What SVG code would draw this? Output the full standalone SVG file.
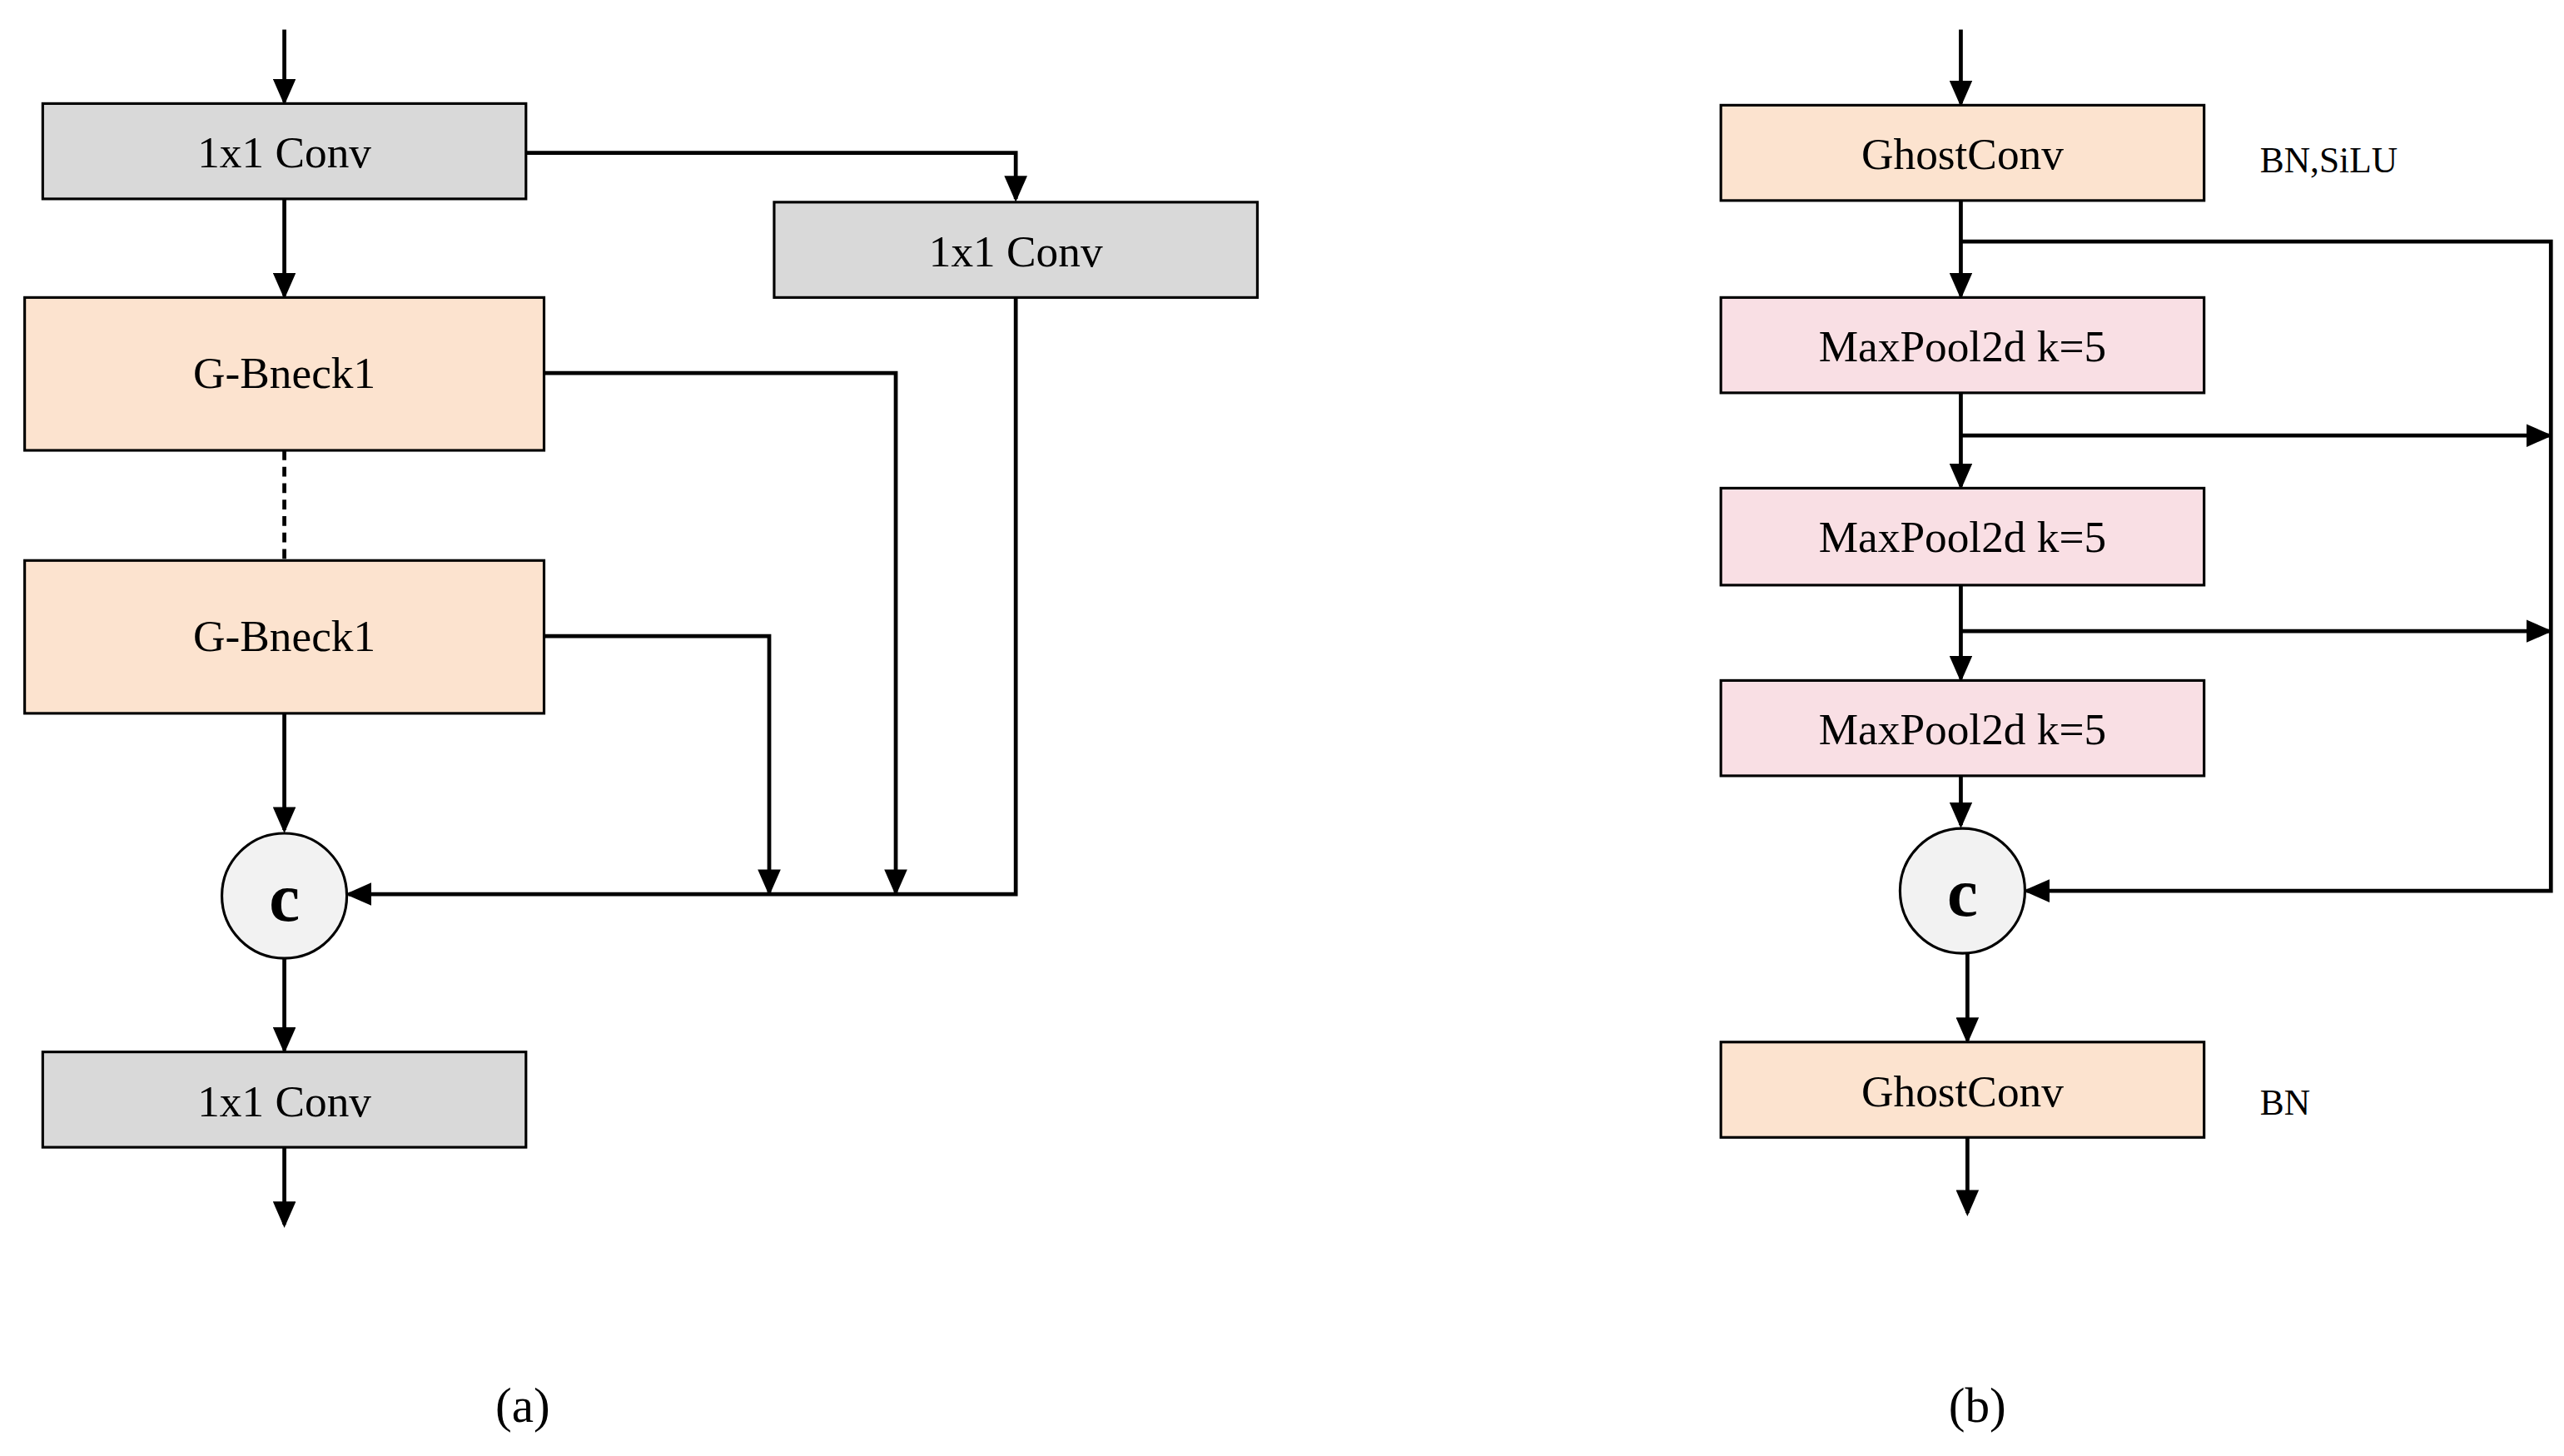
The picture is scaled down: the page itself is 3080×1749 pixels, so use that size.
<svg xmlns="http://www.w3.org/2000/svg" width="3080" height="1749" viewBox="0 0 3080 1749">
<style>
.gray{fill:#d9d9d9;stroke:#000;stroke-width:1.6}
.peach{fill:#fce3cf;stroke:#000;stroke-width:1.6}
.pink{fill:#f9dfe4;stroke:#000;stroke-width:1.6}
.circ{fill:#f2f2f2;stroke:#000;stroke-width:1.6}
.ln{fill:none;stroke:#000;stroke-width:2.4}
.arr{marker-end:url(#ah)}
text{font-family:"Liberation Serif","DejaVu Serif",serif;fill:#000;text-anchor:middle}
.lbl{font-size:27px}
.sm{font-size:22px;text-anchor:start}
.cap{font-size:30px}
.c{font-size:42px;font-weight:bold}
</style>
<defs>
<marker id="ah" markerUnits="userSpaceOnUse" markerWidth="16" markerHeight="14" refX="14" refY="7" orient="auto">
<path d="M0,0 L16,7 L0,14 Z" fill="#000"/>
</marker>
</defs>
<rect width="3080" height="1749" fill="#fff"/>
<g transform="scale(1.9744)">
<g id="connectors">
<path class="ln arr" d="M173,18 V62"/>
<path class="ln arr" d="M320,93 H618 V121"/>
<path class="ln arr" d="M173,121 V180"/>
<path class="ln" d="M173,274 V341" stroke-dasharray="6,4"/>
<path class="ln arr" d="M173,434 V505"/>
<path class="ln arr" d="M173,583 V639"/>
<path class="ln arr" d="M173,698 V745"/>
<path class="ln arr" d="M331,227 H545 V543"/>
<path class="ln arr" d="M331,387 H468 V543"/>
<path class="ln arr" d="M618,181 V544 H212"/>
<path class="ln arr" d="M1193,18 V63"/>
<path class="ln arr" d="M1193,122 V180"/>
<path class="ln arr" d="M1193,147 H1552 V542 H1233"/>
<path class="ln arr" d="M1193,239 V296"/>
<path class="ln arr" d="M1193,265 H1551"/>
<path class="ln arr" d="M1193,356 V413"/>
<path class="ln arr" d="M1193,384 H1551"/>
<path class="ln arr" d="M1193,472 V502"/>
<path class="ln arr" d="M1197,580 V633"/>
<path class="ln arr" d="M1197,692 V738"/>
</g>
<g id="a_conv1"><rect class="gray" x="26" y="63" width="294" height="58"/><text class="lbl" x="173" y="102">1x1 Conv</text></g>
<g id="a_conv2"><rect class="gray" x="471" y="123" width="294" height="58"/><text class="lbl" x="618" y="162">1x1 Conv</text></g>
<g id="a_bneck1"><rect class="peach" x="15" y="181" width="316" height="93"/><text class="lbl" x="173" y="236">G-Bneck1</text></g>
<g id="a_bneck2"><rect class="peach" x="15" y="341" width="316" height="93"/><text class="lbl" x="173" y="396">G-Bneck1</text></g>
<g id="a_c"><circle class="circ" cx="173" cy="545" r="38"/><text class="c" x="173" y="560">c</text></g>
<g id="a_conv3"><rect class="gray" x="26" y="640" width="294" height="58"/><text class="lbl" x="173" y="679">1x1 Conv</text></g>
<g id="cap_a"><text class="cap" x="318" y="865">(a)</text></g>
<g id="b_ghost1"><rect class="peach" x="1047" y="64" width="294" height="58"/><text class="lbl" x="1194" y="103">GhostConv</text><text class="sm" x="1375" y="105">BN,SiLU</text></g>
<g id="b_pool1"><rect class="pink" x="1047" y="181" width="294" height="58"/><text class="lbl" x="1194" y="220">MaxPool2d k=5</text></g>
<g id="b_pool2"><rect class="pink" x="1047" y="297" width="294" height="59"/><text class="lbl" x="1194" y="336">MaxPool2d k=5</text></g>
<g id="b_pool3"><rect class="pink" x="1047" y="414" width="294" height="58"/><text class="lbl" x="1194" y="453">MaxPool2d k=5</text></g>
<g id="b_c"><circle class="circ" cx="1194" cy="542" r="38"/><text class="c" x="1194" y="557">c</text></g>
<g id="b_ghost2"><rect class="peach" x="1047" y="634" width="294" height="58"/><text class="lbl" x="1194" y="673">GhostConv</text><text class="sm" x="1375" y="678">BN</text></g>
<g id="cap_b"><text class="cap" x="1203" y="865">(b)</text></g>
</g>
</svg>
